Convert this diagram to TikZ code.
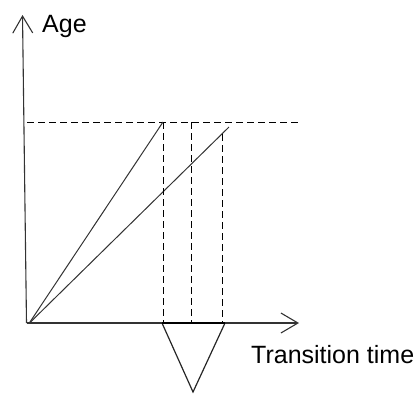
\documentclass[tikz,border=0pt]{standalone}
\usepackage{fontspec}
\setmainfont{Liberation Sans}
\usetikzlibrary{arrows.meta}
\begin{document}
\begin{tikzpicture}[x=1pt,y=-1pt,
  axis/.style={line width=1.1pt, draw=black!80, -{Straight Barb[length=17pt,width=20pt,line width=1.1pt]}},
  ray/.style={line width=1pt, draw=black!80},
  guide/.style={line width=1pt, dash pattern=on 7pt off 4pt},
  lbl/.style={inner sep=0pt, font=\fontsize{25}{30}\selectfont},
  tri/.style={line width=1.2pt, draw=black!85}]
\useasboundingbox (0,0) rectangle (419,394);
\coordinate (O) at (26.5,323);
\coordinate (R) at (29,323.5);
\coordinate (Ytop) at (22.5,15);
\coordinate (Xend) at (299,323);
\coordinate (Hl) at (27,122);
\coordinate (Hr) at (300,122);
\coordinate (P1) at (163,122);
\coordinate (P2) at (229,127);
\coordinate (M) at (191,122);
\coordinate (Q) at (222,134);
\coordinate (B1) at (163,323);
\coordinate (B2) at (191,323);
\coordinate (B3) at (222,323);
\coordinate (TL) at (162,323);
\coordinate (TR) at (225,323);
\coordinate (Apex) at (193,392);
\draw[axis] (O) -- (Ytop);
\draw[axis] (O) -- (Xend);
\draw[guide] (Hl) -- (Hr);
\draw[ray] (R) -- (P1);
\draw[ray] (R) -- (P2);
\draw[guide] (P1) -- (B1);
\draw[guide] (M) -- (B2);
\draw[guide] (Q) -- (B3);
\draw[tri] (TL) -- (Apex) -- (TR);
\draw[line width=2pt] (TL) -- (TR);
\node[lbl, anchor=base west] (age) at (42,32) {Age};
\node[lbl, anchor=base west] (tt) at (251,363) {Transition time};
\end{tikzpicture}
\end{document}
